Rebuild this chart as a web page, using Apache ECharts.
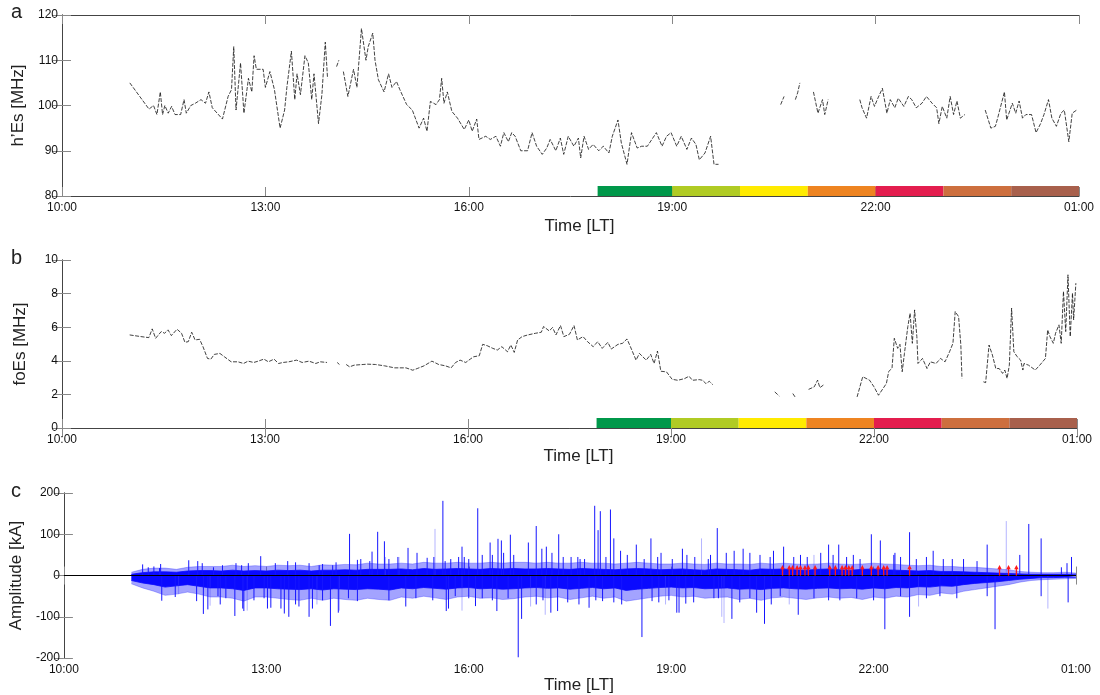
<!DOCTYPE html>
<html><head><meta charset="utf-8">
<script src="https://cdn.jsdelivr.net/npm/echarts@6/dist/echarts.min.js"></script>
<style>html,body{margin:0;padding:0;background:#fff}#c{width:1100px;height:695px}</style>
</head><body><div id="c"></div>
<script>
// ---------- data ----------
const xTickLabels = ["10:00","13:00","16:00","19:00","22:00","01:00"];
const panelLetters = ["a","b","c"];
const yNames = ["h\u2019Es [MHz]","foEs [MHz]","Amplitude [kA]"];
const xName = "Time [LT]";

// h'Es (panel a): [time, value], null = gap
const hEsData = [
["11:00",105],["11:17",99.2],["11:21",100],["11:24",98],["11:27",103],["11:29",98],["11:31",100],["11:34",98.3],["11:37",99.8],["11:40",98],["11:45",98],["11:48",101.3],["11:50",98.3],["11:54",100],["11:58",100.5],["12:03",101.3],["12:07",100.5],["12:10",103],["12:13",99.5],["12:22",97],["12:27",102],["12:30",103.5],["12:32",113],["12:34",99],["12:38",109.4],["12:41",98.3],["12:45",106],["12:48",103],["12:50",111],["12:52",108],["12:58",108],["13:00",104],["13:04",107.5],["13:08",103.5],["13:13",95],["13:17",99],["13:19",104],["13:23",112],["13:26",101.3],["13:28",107],["13:31",102.4],["13:35",111],["13:38",109.4],["13:41",101.3],["13:43",107],["13:47",96],["13:50",102.4],["13:53",114],["13:55",106],["13:58",null],
["14:03",108.6],["14:05",110],["14:07",null],
["14:09",107.5],["14:13",102],["14:18",108],["14:21",104],["14:25",117],["14:29",110],["14:31",113],["14:35",116],["14:37",110],["14:40",105.7],["14:45",103],["14:49",107],["14:52",104],["14:56",105.3],["14:59",103.5],["15:05",100.2],["15:10",99],["15:16",95],["15:20",97.2],["15:23",94.3],["15:26",100.9],["15:31",100.2],["15:34",101.3],["15:36",106],["15:38",100.5],["15:41",103],["15:45",98.7],["15:50",97.2],["15:56",94.7],["16:00",96.8],["16:03",94.3],["16:07",97],["16:09",92.5],["16:15",93.2],["16:19",92.5],["16:24",93.2],["16:28",91],["16:31",94],["16:35",92],["16:38",94],["16:41",93.2],["16:46",90],["16:52",90],["16:56",94],["17:00",91],["17:05",89.2],["17:09",90.6],["17:12",92.5],["17:17",90],["17:21",92.8],["17:24",89.2],["17:28",93.2],["17:33",91],["17:37",92.8],["17:39",88.4],["17:42",93.2],["17:46",90.3],["17:50",91.4],["17:55",90],["17:59",91],["18:04",89.5],["18:07",93.2],["18:12",96.8],["18:15",91.7],["18:20",87],["18:24",94],["18:29",90.6],["18:33",91],["18:38",91],["18:42",92.5],["18:46",94],["18:51",91],["18:55",93.2],["18:59",94],["19:04",91],["19:08",93.2],["19:13",90.3],["19:17",92.8],["19:21",91.4],["19:24",88],["19:29",89.5],["19:34",93.2],["19:37",87],["19:41",87],["19:44",null],
["20:36",100.2],["20:39",102],["20:42",null],
["20:49",101.3],["20:51",102.8],["20:53",105],["20:58",null],
["21:05",103],["21:09",98.3],["21:13",101.3],["21:15",98],["21:18",101.3],["21:30",null],
["21:46",101.3],["21:48",99.5],["21:52",97.2],["21:56",102],["21:59",99.8],["22:02",101.6],["22:06",103.8],["22:10",98.3],["22:13",101.3],["22:17",99.5],["22:20",101.6],["22:25",99.8],["22:29",102],["22:32",101.3],["22:36",99.5],["22:41",100.5],["22:45",102],["22:50",100.5],["22:54",99.5],["22:56",96],["22:59",99.8],["23:03",97.2],["23:06",102],["23:09",98],["23:12",101],["23:15",97.2],["23:19",98],["23:28",null],
["23:37",99],["23:42",95],["23:46",95.4],["23:48",97.2],["23:54",103],["23:56",96.8],["00:01",100.5],["00:04",98.3],["00:07",101],["00:10",97.2],["00:13",98],["00:18",98],["00:22",94],["00:26",96],["00:29",98],["00:33",101.3],["00:36",97.2],["00:40",95.4],["00:44",98.3],["00:47",99],["00:51",92],["00:54",98.3],["00:58",99]
];

// foEs (panel b)
const foEsData = [
["11:00",5.54],["11:10",5.44],["11:17",5.38],["11:20",5.9],["11:23",5.34],["11:28",5.74],["11:31",5.64],["11:34",5.84],["11:37",5.5],["11:42",5.88],["11:46",5.64],["11:49",5.1],["11:52",5.14],["11:55",5.7],["11:58",5.24],["12:02",5.28],["12:05",4.84],["12:09",4.14],["12:12",4.1],["12:15",4.38],["12:20",4.44],["12:24",4.24],["12:30",3.94],["12:36",3.94],["12:41",3.84],["12:45",3.98],["12:50",3.9],["12:54",3.98],["12:59",4.1],["13:03",3.94],["13:08",4.1],["13:12",3.84],["13:16",3.9],["13:21",3.94],["13:28",4.04],["13:33",3.9],["13:39",3.98],["13:45",3.84],["13:49",3.94],["13:55",3.9],["14:00",null],
["14:04",3.9],["14:06",3.78],["14:09",null],
["14:12",3.78],["14:15",3.64],["14:19",3.74],["14:27",3.78],["14:31",3.8],["14:38",3.78],["14:46",3.7],["14:55",3.58],["15:05",3.58],["15:11",3.44],["15:15",3.54],["15:21",3.7],["15:28",3.98],["15:34",3.78],["15:40",3.7],["15:45",3.58],["15:49",3.9],["15:53",4.04],["15:58",3.9],["16:02",4.1],["16:05",4.24],["16:10",4.3],["16:13",4.98],["16:17",4.9],["16:22",4.74],["16:26",4.64],["16:30",4.84],["16:35",4.54],["16:38",4.94],["16:41",4.5],["16:44",5.24],["16:48",5.44],["16:53",5.54],["17:00",5.64],["17:05",5.7],["17:07",6.04],["17:12",5.78],["17:15",5.98],["17:18",5.54],["17:22",6.1],["17:25",5.44],["17:30",5.58],["17:34",6.1],["17:37",5.24],["17:42",5.44],["17:46",5.14],["17:51",4.84],["17:55",5.14],["17:59",4.74],["18:04",5.1],["18:07",4.7],["18:13",4.98],["18:17",5.04],["18:21",5.3],["18:24",4.84],["18:29",4.04],["18:32",4.44],["18:38",4.04],["18:42",4.38],["18:45",3.84],["18:48",4.58],["18:51",3.38],["18:56",3.34],["19:01",2.9],["19:06",2.84],["19:12",2.94],["19:16",3.08],["19:19",2.84],["19:25",2.88],["19:28",2.84],["19:31",2.64],["19:34",2.78],["19:37",2.58],["19:40",null],
["20:32",2.15],["20:36",1.9],["20:40",null],
["20:48",2.05],["20:50",1.85],["20:55",null],
["21:02",2.3],["21:07",2.45],["21:10",2.85],["21:12",2.4],["21:16",2.6],["21:25",null],
["21:45",1.85],["21:50",3.05],["21:56",2.85],["22:00",2.45],["22:04",1.95],["22:08",2.35],["22:11",2.65],["22:13",3.35],["22:16",3.58],["22:18",5.34],["22:21",4.74],["22:23",4.98],["22:25",3.35],["22:27",4.44],["22:30",6.04],["22:32",6.83],["22:34",5.04],["22:36",7.03],["22:38",5.44],["22:39",3.84],["22:43",4.14],["22:47",3.54],["22:50",3.94],["22:55",3.84],["22:59",4.14],["23:03",3.94],["23:07",4.54],["23:10",5.04],["23:12",6.93],["23:15",6.63],["23:17",4.94],["23:18",2.95],["23:25",null],
["23:37",2.75],["23:39",2.7],["23:42",4.94],["23:45",4.34],["23:48",3.54],["23:51",3.54],["23:54",3.25],["23:56",3.45],["23:58",2.95],["00:00",3.74],["00:02",7.13],["00:04",4.54],["00:07",4.24],["00:10",4.04],["00:12",3.45],["00:13",3.84],["00:17",3.74],["00:23",3.45],["00:27",3.74],["00:32",4.14],["00:34",5.84],["00:36",5.44],["00:39",5.04],["00:41",5.64],["00:44",6.14],["00:46",5.04],["00:48",8.13],["00:50",5.74],["00:52",9.12],["00:54",5.44],["00:56",8.03],["00:57",6.43],["00:59",8.62]
];

// colour strip (sunset-to-night periods)
const stripEdges = ["17:54","19:00","20:00","21:00","22:00","23:00","00:00","01:00"];
const stripColors = ["#00984a","#b0cb24","#ffeb00","#ee8421","#e31d4e","#cd6f3e","#a8604c"];

// lightning amplitude (panel c): envelopes every 10 min
const bandTimes = [
"11:00","11:10","11:20","11:30","11:40","11:50","12:00","12:10","12:20","12:30","12:40","12:50",
"13:00","13:10","13:20","13:30","13:40","13:50","14:00","14:10","14:20","14:30","14:40","14:50",
"15:00","15:10","15:20","15:30","15:40","15:50","16:00","16:10","16:20","16:30","16:40","16:50",
"17:00","17:10","17:20","17:30","17:40","17:50","18:00","18:10","18:20","18:30","18:40","18:50",
"19:00","19:10","19:20","19:30","19:40","19:50","20:00","20:10","20:20","20:30","20:40","20:50",
"21:00","21:10","21:20","21:30","21:40","21:50","22:00","22:10","22:20","22:30","22:40","22:50",
"23:00","23:10","23:20","23:30","23:40","23:50","00:00","00:10","00:20","00:30","00:40","00:50","01:00"];
// dense core
const bandTop = [
3,7,9,9,8,11, 12,12,11,13,11,12,
11,13,12,13,11,13, 13,14,13,15,15,15,
16,14,17,15,16,17, 16,15,17,16,17,16,
16,17,16,15,17,16, 15,14,16,17,16,14,
15,16,14,13,16,15, 14,13,16,15,16,14,
13,15,16,14,13,15, 16,14,13,12,11,12,
10,10,9,8,7,6, 5,4,3,3,3,3, 3];
const bandBottom = [
-12,-18,-22,-28,-25,-22, -26,-30,-30,-32,-36,-30,
-30,-32,-33,-34,-32,-35, -32,-33,-34,-32,-33,-35,
-30,-32,-29,-31,-33,-30, -29,-32,-31,-33,-32,-30,
-29,-31,-30,-33,-31,-29, -32,-30,-36,-33,-31,-29,
-28,-30,-29,-32,-31,-30, -33,-32,-34,-31,-30,-32,
-33,-31,-30,-32,-31,-33, -30,-32,-29,-30,-27,-28,
-25,-26,-22,-19,-17,-15, -12,-9,-7,-5,-5,-4, -4];
// looser fringe of smaller strokes
const fringeTop = [
8,15,18,18,15,20, 22,22,22,25,22,24,
22,25,24,25,22,26, 25,27,26,30,28,28,
30,28,32,30,30,32, 30,30,32,30,32,32,
30,32,30,30,32,30, 30,28,30,32,30,28,
28,30,28,27,30,28, 28,27,30,28,30,28,
27,28,30,28,27,28, 30,28,27,25,24,25,
22,22,20,20,18,16, 14,10,8,7,7,8, 6];
const fringeBottom = [
-20,-30,-38,-48,-45,-40, -45,-52,-52,-55,-62,-52,
-52,-55,-58,-60,-55,-60, -55,-58,-60,-55,-58,-60,
-52,-55,-50,-54,-58,-52, -50,-55,-54,-58,-56,-52,
-50,-54,-52,-58,-54,-50, -55,-52,-62,-58,-54,-50,
-48,-52,-50,-55,-53,-52, -58,-55,-60,-54,-52,-55,
-58,-54,-52,-55,-53,-58, -52,-55,-50,-52,-46,-48,
-42,-45,-38,-34,-30,-26, -22,-16,-12,-10,-9,-8, -7];

// individual strokes standing out of the core: [time, kA]
const strongStrokes = [
["11:10",27],["11:15",20],["11:20",22],["11:25",18],["11:26",28],["11:27",-61],["11:39",-52],["11:51",37],["11:58",-62],["11:59",35],["12:03",30],["12:04",-93],["12:08",-82],["12:13",20],["12:17",-50],["12:19",-70],["12:21",25],["12:24",-55],["12:32",-98],["12:33",30],["12:38",25],["12:39",-80],["12:40",-86],["12:44",30],["12:49",-60],["12:55",47],["12:58",-55],["13:01",-80],["13:04",-78],["13:08",30],["13:13",-80],["13:16",-92],["13:19",35],["13:20",-100],["13:26",-70],["13:26",32],["13:29",-75],["13:38",-100],["13:38",30],["13:41",-80],["13:47",25],["13:50",-60],["13:50",28],["13:57",-122],["13:59",25],["14:02",32],["14:04",-90],["14:13",-55],["14:14",101],["14:21",38],["14:21",-62],["14:24",40],["14:32",35],["14:34",58],["14:39",106],["14:45",83],["14:49",40],["14:49",-60],["14:57",45],
["15:04",-75],["15:06",67],["15:13",-55],["15:14",55],["15:23",43],["15:28",-60],["15:29",45],["15:37",181],["15:39",35],["15:40",-86],["15:42",-80],["15:44",40],["15:48",-50],["15:51",45],["15:54",70],["15:56",45],["16:00",40],["16:00",-55],["16:06",-74],["16:08",163],["16:12",50],["16:12",-55],["16:19",80],["16:21",-60],["16:21",50],["16:25",-86],["16:26",89],["16:29",85],["16:31",55],["16:35",-55],["16:37",99],["16:40",50],["16:44",-198],["16:47",-105],["16:53",80],["17:00",120],["17:00",-70],["17:05",65],["17:06",-60],["17:09",70],["17:13",-90],["17:14",55],["17:19",-86],["17:20",100],["17:24",45],["17:28",-65],["17:31",45],["17:37",45],["17:38",-70],["17:39",40],["17:43",40],["17:47",-78],["17:52",169],["17:53",-60],["17:55",110],["17:57",156],["17:59",-62],["18:02",45],["18:06",160],["18:09",90],["18:09",-65],["18:15",60],["18:16",-70],["18:21",50],["18:29",75],["18:34",-149],["18:36",40],["18:42",90],["18:43",-62],["18:48",45],["18:49",-65],["18:51",55],["18:58",-60],["19:01",40],["19:05",-90],["19:07",-90],["19:10",65],["19:13",-68],["19:14",50],["19:20",-65],["19:21",45],["19:33",40],["19:35",50],["19:38",-55],["19:41",115],["19:42",-55],["19:49",55],["19:54",-105],["19:56",60],["20:01",-65],["20:04",65],["20:10",55],["20:10",-55],["20:16",-90],["20:19",50],["20:23",-117],["20:28",45],["20:29",-70],["20:31",60],["20:37",-50],["20:40",70],["20:49",45],["20:53",-95],["20:55",50],["21:01",45],["21:07",-55],["21:13",55],["21:20",75],["21:20",-60],["21:24",50],["21:29",75],["21:30",-60],["21:36",45],["21:42",50],["21:45",-55],["21:48",40],["21:58",100],["22:00",-60],["22:06",85],["22:10",-130],["22:18",50],["22:19",55],["22:24",-50],["22:24",45],["22:32",105],["22:32",-100],["22:38",40],["22:47",45],["22:47",-55],["22:53",60],["22:59",-50],["23:02",40],["23:10",40],["23:14",-55],["23:20",40],["23:32",35],["23:41",75],["23:41",-50],["23:48",-130],["00:10",50],["00:18",125],["00:29",90],["00:29",-50],["00:47",20],["00:52",30],["00:53",-65],["00:56",45]
];
const faintStrokes = [
["11:42",-45],["12:10",-73],["12:43",-85],["14:05",-85],["14:46",45],["14:58",45],["15:30",113],["15:54",-85],["17:08",-95],["19:27",90],["19:45",-100],["19:47",-115],["21:07",50],["23:58",132],["00:35",-80],["13:45",-70],["16:55",-75],["18:55",-70],["20:45",-70],["22:40",-75]
];

// red markers (strokes of interest)
const redTimes = ["20:39","20:45","20:48","20:52","20:55","20:59","21:02","21:08","21:21","21:26","21:32","21:35","21:38","21:41","21:50","21:58","22:04","22:09","22:12","22:32","23:52","00:00","00:07"];
const redAmps = [20,20,20,20,20,20,20,20,20,20,20,20,20,20,20,20,20,20,20,20,20,20,20];

// ---------- helpers ----------
function hrs(s){ const p=s.split(':').map(Number); let v=p[0]+p[1]/60; if(p[0]<10) v+=24; return v-10; }
const pairs = arr => arr.map(d => [hrs(d[0]), d[1]]);
const FONT = 'Liberation Sans';

const grids = [
  {left:62, right:21, top:15, height:181},
  {left:62, right:23, top:260, height:168},
  {left:62, right:24, top:493, height:166}
];
const yRanges = [[80,120,10],[0,10,2],[-200,200,100]];
const xNameGaps = [22, 20, 17];

const xAxes = [], yAxes = [];
grids.forEach((g,i)=>{
  const line = {show:true, lineStyle:{color:'#444', width:1}};
  const tick = {show:true, inside:true, length:9, lineStyle:{color:'#888', width:1}};
  xAxes.push({gridIndex:i, type:'value', min:0, max:15, interval:3, position:'bottom',
    axisLine:line, axisTick:tick, splitLine:{show:false},
    axisLabel:{fontFamily:FONT, fontSize:12, color:'#111', margin:6,
      formatter:v=>xTickLabels[Math.round(v/3)]},
    name:xName, nameLocation:'middle', nameGap:xNameGaps[i],
    nameTextStyle:{fontFamily:FONT, fontSize:17, color:'#222', padding:[0,0,0,18]}});
  xAxes.push({gridIndex:i, type:'value', min:0, max:15, interval:3, position:'top',
    axisLine:line, axisTick:tick, axisLabel:{show:false}, splitLine:{show:false}});
  const r = yRanges[i];
  yAxes.push({gridIndex:i, type:'value', min:r[0], max:r[1], interval:r[2], position:'left',
    axisLine:line, axisTick:tick, splitLine:{show:false},
    axisLabel:{fontFamily:FONT, fontSize:12, color:'#111', margin:4},
    name:yNames[i], nameLocation:'middle', nameGap:33,
    nameTextStyle:{fontFamily:FONT, fontSize:17, color:'#222'}});
  yAxes.push({gridIndex:i, type:'value', min:r[0], max:r[1], interval:r[2], position:'right',
    axisLine:line, axisTick:tick, axisLabel:{show:false}, splitLine:{show:false}});
});

function stripSeries(gi, yMin){
  const data = stripColors.map((c,k)=>[hrs(stripEdges[k]), hrs(stripEdges[k+1]), k]);
  return {type:'custom', xAxisIndex:gi*2, yAxisIndex:gi*2, silent:true, z:4,
    encode:{x:[0,1]}, data,
    renderItem:(p,api)=>{
      const a=api.coord([api.value(0), yMin]), b=api.coord([api.value(1), yMin]);
      return {type:'rect', shape:{x:a[0], y:a[1]-10, width:b[0]-a[0], height:10},
        style:{fill:stripColors[api.value(2)]}};
    }};
}
function strokeSeries(data, color, z){
  return {type:'custom', xAxisIndex:4, yAxisIndex:4, silent:true, z, clip:true,
    encode:{x:0,y:1}, data:pairs(data),
    renderItem:(p,api)=>{
      const t=api.value(0), a=api.value(1);
      const p0=api.coord([t,0]), p1=api.coord([t,a]);
      return {type:'line', shape:{x1:p0[0],y1:p0[1],x2:p1[0],y2:p1[1]},
        style:{stroke:color, lineWidth:1}};
    }};
}
function envSeries(vals, color, z, extra){
  return Object.assign({type:'line', xAxisIndex:4, yAxisIndex:4, showSymbol:false, silent:true, z,
    data:bandT.map((t,k)=>[t,vals[k]]),
    lineStyle:{color, width:0.8}, areaStyle:{color, opacity:1}}, extra||{});
}

const bandT = bandTimes.map(hrs);
const tsLine = {color:'#111', width:0.8, type:[4,1.5]};
const series = [
  {type:'line', xAxisIndex:0, yAxisIndex:0, data:pairs(hEsData), showSymbol:false, connectNulls:false,
   lineStyle:tsLine, silent:true, z:3},
  stripSeries(0, 80),
  {type:'line', xAxisIndex:2, yAxisIndex:2, data:pairs(foEsData), showSymbol:false, connectNulls:false,
   lineStyle:tsLine, silent:true, z:3},
  stripSeries(1, 0),
  envSeries(fringeTop, 'rgba(50,50,255,0.45)', 1),
  envSeries(fringeBottom, 'rgba(50,50,255,0.45)', 1),
  envSeries(bandTop, '#0a0aff', 2),
  envSeries(bandBottom, '#0a0aff', 2, {markLine:{silent:true, symbol:['none','none'], label:{show:false},
     lineStyle:{color:'#000', width:1.2, type:'solid'}, data:[{yAxis:0}], z:6}}),
  strokeSeries(faintStrokes, 'rgba(70,70,255,0.4)', 2),
  strokeSeries(strongStrokes, '#1515ff', 3),
  {type:'custom', xAxisIndex:4, yAxisIndex:4, silent:true, z:7, encode:{x:0,y:1},
   data:redTimes.map((t,k)=>[hrs(t), redAmps[k]]),
   renderItem:(p,api)=>{
     const t=api.value(0), a=api.value(1);
     const p0=api.coord([t,0]), p1=api.coord([t,a]);
     return {type:'group', children:[
       {type:'line', shape:{x1:p0[0],y1:p0[1],x2:p1[0],y2:p1[1]}, style:{stroke:'#ff1a1a', lineWidth:1.3}},
       {type:'polygon', shape:{points:[[p1[0]-2.2,p1[1]+2],[p1[0]+2.2,p1[1]+2],[p1[0],p1[1]-2.2]]}, style:{fill:'#ff1a1a'}}
     ]};
   }}
];

const letterY = [14, 260, 493];
const graphic = panelLetters.map((l,i)=>({type:'text', left:11, top:letterY[i]-12,
  style:{text:l, font:'20px "Liberation Sans"', fill:'#222'}}));

const chart = echarts.init(document.getElementById('c'), null, {renderer:'canvas'});
chart.setOption({animation:false, backgroundColor:'#fff', grid:grids, xAxis:xAxes, yAxis:yAxes, series, graphic});
</script></body></html>
